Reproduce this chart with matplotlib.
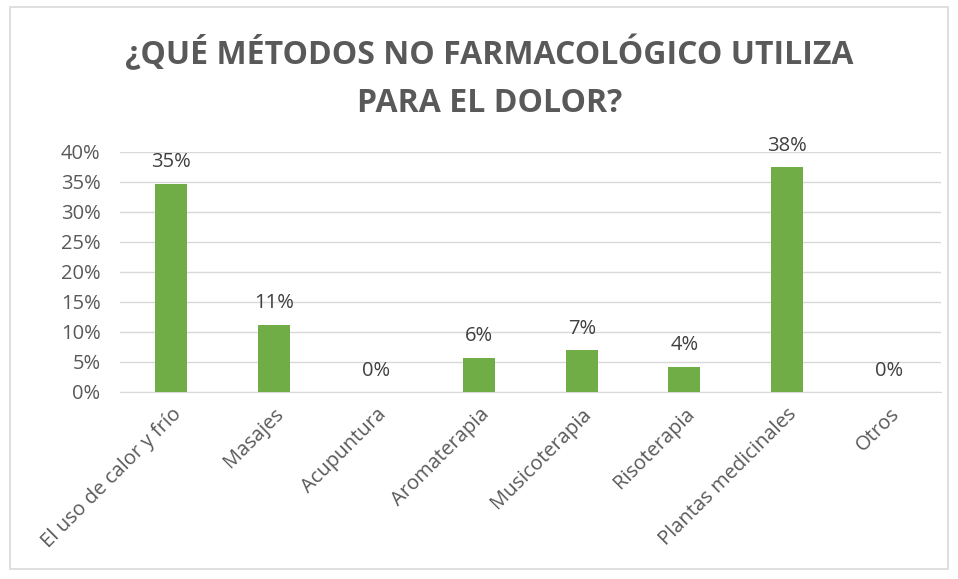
import matplotlib.pyplot as plt
from matplotlib.patches import Rectangle
from matplotlib.ticker import FuncFormatter

categories = ['El uso de calor y frío', 'Masajes', 'Acupuntura', 'Aromaterapia',
              'Musicoterapia', 'Risoterapia', 'Plantas medicinales', 'Otros']
values = [34.7, 11.2, 0.0, 5.7, 7.0, 4.2, 37.5, 0.0]
labels = ['35%', '11%', '0%', '6%', '7%', '4%', '38%', '0%']
yticks = [0, 5, 10, 15, 20, 25, 30, 35, 40]

title = '¿QUÉ MÉTODOS NO FARMACOLÓGICO UTILIZA\nPARA EL DOLOR?'


def main():
    plt.rcParams['font.family'] = ['Open Sans', 'DejaVu Sans']

    fig = plt.figure(figsize=(9.58, 5.79), dpi=100)
    ax = fig.add_axes([0.1253, 0.323, 0.8567, 0.4145])

    x = range(len(categories))
    ax.bar(x, values, width=0.31, color='#70AD47', zorder=3)

    for i, (v, t) in enumerate(zip(values, labels)):
        ax.text(i, v + 1.9, t, ha='center', va='bottom', fontsize=14.5, color='#404040')

    ax.set_xlim(-0.5, len(categories) - 0.5)
    ax.set_ylim(0, 40)
    ax.set_yticks(yticks)
    ax.yaxis.set_major_formatter(FuncFormatter(lambda v, p: f'{int(v)}%'))
    ax.grid(axis='y', color='#D9D9D9', linewidth=1, zorder=0)
    for s in ['top', 'right', 'left']:
        ax.spines[s].set_visible(False)
    ax.spines['bottom'].set_color('#D9D9D9')
    ax.tick_params(axis='both', length=0, labelsize=14.5, labelcolor='#595959')
    ax.tick_params(axis='y', pad=14)
    ax.set_xticks(list(x))
    ax.set_xticklabels(categories, rotation=45, ha='right', rotation_mode='anchor')
    ax.tick_params(axis='x', pad=9)

    fig.text(0.511, 0.865, title, ha='center', va='center', fontsize=23,
             fontweight='bold', color='#595959', linespacing=1.6)

    fig.patches.append(Rectangle((10 / 958, 10 / 579), 938 / 958, 562 / 579,
                                 transform=fig.transFigure, fill=False,
                                 edgecolor='#D9D9D9', linewidth=1.2))

    plt.savefig('out.png', dpi=100)


if __name__ == "__main__":
    main()
